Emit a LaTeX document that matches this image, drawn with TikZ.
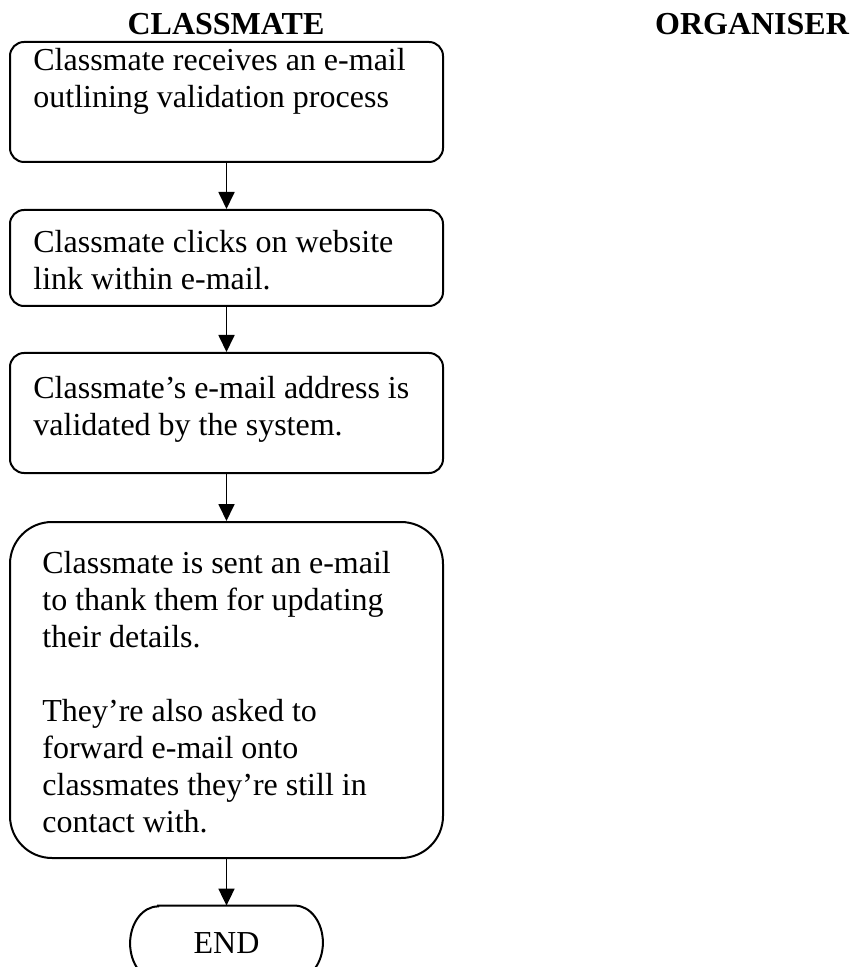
\documentclass[tikz,border=0pt]{standalone}
\usepackage{fontspec}
\setmainfont{Liberation Serif}
\usetikzlibrary{arrows.meta}
\tikzset{
  stepbox/.style={draw, line width=1pt, rounded corners=7pt, minimum width=216.5pt, inner sep=0pt},
  bigbox/.style={draw, line width=1pt, rounded corners=21pt, minimum width=216.5pt, inner sep=0pt},
  endbox/.style={minimum width=96pt, minimum height=37pt, inner sep=0pt, font=\fontsize{16}{18.5}\selectfont},
  endline/.style={line width=1pt},
  boxtext/.style={anchor=north west, inner sep=0pt, align=left, font=\fontsize{16}{18.5}\selectfont},
  heading/.style={anchor=base, inner sep=0pt, font=\fontsize{16}{18.5}\selectfont\bfseries},
  flow/.style={line width=0.9pt, -{Triangle[length=8.5pt,width=8pt]}}
}
\begin{document}
\begin{tikzpicture}[x=0.5pt,y=-0.5pt]
\useasboundingbox (0,0) rectangle (855,967);
\clip (0,0) rectangle (855,967);
\node[heading] (hc) at (226,35) {CLASSMATE};
\node[heading] (ho) at (752,35) {ORGANISER};

\node[stepbox, minimum height=60pt] (b1) at (226.5,102) {};
\node[stepbox, minimum height=48pt] (b2) at (226.5,258) {};
\node[stepbox, minimum height=60pt] (b3) at (226.5,413) {};
\node[bigbox, minimum height=168pt] (b4) at (226.5,690) {};
\node[endbox] (e) at (226.5,943) {END};
\draw[endline] ([xshift=14pt]e.north west) -- ([xshift=-14pt]e.north east)
  arc[start angle=90, end angle=-90, x radius=14pt, y radius=18.5pt]
  -- ([xshift=14pt]e.south west)
  arc[start angle=270, end angle=90, x radius=14pt, y radius=18.5pt] -- cycle;

\node[boxtext] (t1) at (33,46) {\rule{0pt}{12pt}Classmate receives an e-mail\\outlining validation process};
\node[boxtext] (t2) at (33,228) {\rule{0pt}{12pt}Classmate clicks on website\\link within e-mail.};
\node[boxtext] (t3) at (33,374) {\rule{0pt}{12pt}Classmate’s e-mail address is\\validated by the system.};
\node[boxtext] (t4) at (42,549) {\rule{0pt}{12pt}Classmate is sent an e-mail\\to thank them for updating\\their details.\\[18.5pt]They’re also asked to\\forward e-mail onto\\classmates they’re still in\\contact with.};

\draw[flow] (b1.south) -- (b2.north);
\draw[flow] (b2.south) -- (b3.north);
\draw[flow] (b3.south) -- (b4.north);
\draw[flow] (b4.south) -- (e.north);
\end{tikzpicture}
\end{document}
